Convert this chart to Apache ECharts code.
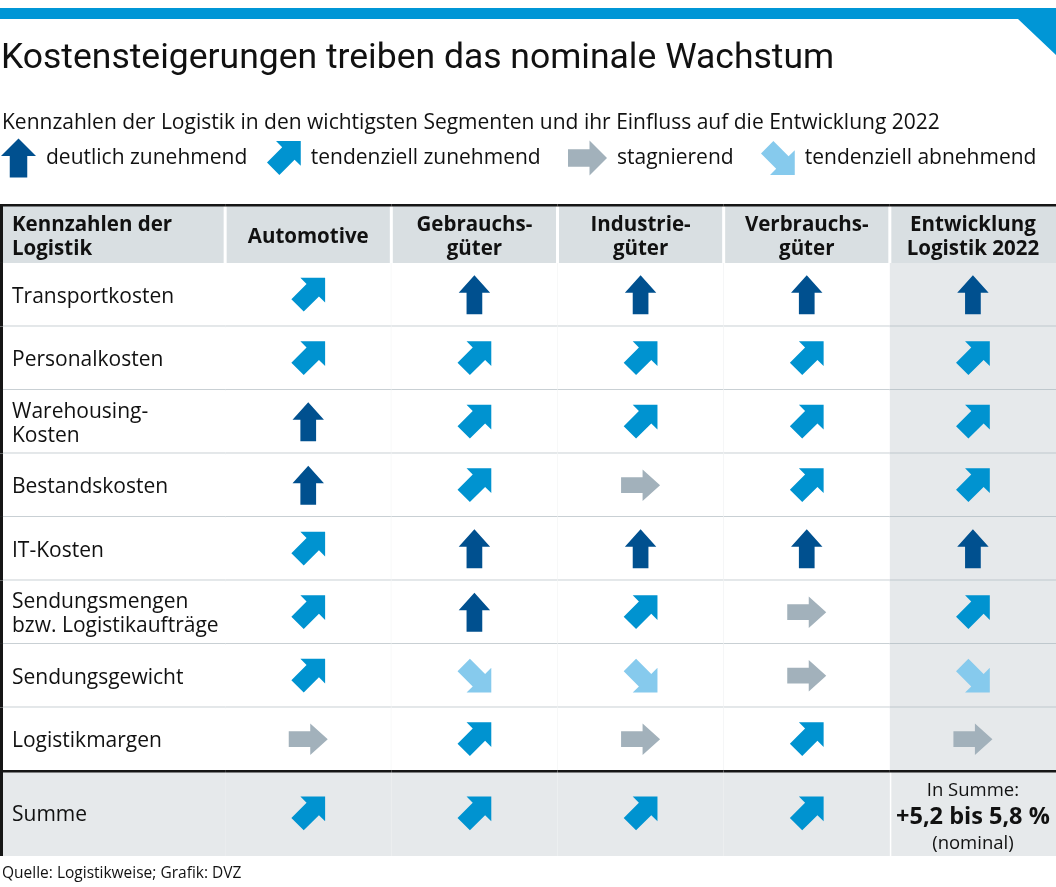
<!DOCTYPE html>
<html>
<head>
<meta charset="utf-8">
<script src="https://cdn.jsdelivr.net/npm/echarts@6.0.0/dist/echarts.min.js"></script>
<style>
  html, body { margin: 0; padding: 0; background: #fff; }
  #chart { width: 1056px; height: 887px; }
</style>
</head>
<body>
<div id="chart"></div>
<script>
// Table of trend arrows: rows = logistics metrics, columns = segments.
// 'up' = deutlich zunehmend, 'rise' = tendenziell zunehmend,
// 'flat' = stagnierend, 'fall' = tendenziell abnehmend
const columnHeads = ['Kennzahlen der\nLogistik', 'Automotive', 'Gebrauchs-\ngüter', 'Industrie-\ngüter', 'Verbrauchs-\ngüter', 'Entwicklung\nLogistik 2022'];
const metrics = ['Transportkosten', 'Personalkosten', 'Warehousing-\nKosten', 'Bestandskosten', 'IT-Kosten',
  'Sendungsmengen\nbzw. Logistikaufträge', 'Sendungsgewicht', 'Logistikmargen', 'Summe'];

const automotive       = ['rise', 'rise', 'up',   'up',   'rise', 'rise', 'rise', 'flat', 'rise'];
const gebrauchsgueter  = ['up',   'rise', 'rise', 'rise', 'up',   'up',   'fall', 'rise', 'rise'];
const industriegueter  = ['up',   'rise', 'rise', 'flat', 'up',   'rise', 'fall', 'flat', 'rise'];
const verbrauchsgueter = ['up',   'rise', 'rise', 'rise', 'up',   'flat', 'flat', 'rise', 'rise'];
const entwicklung2022  = ['up',   'rise', 'rise', 'rise', 'up',   'rise', 'fall', 'flat', null];

const trendKeys   = ['up', 'rise', 'flat', 'fall'];
const trendLabels = ['deutlich zunehmend', 'tendenziell zunehmend', 'stagnierend', 'tendenziell abnehmend'];
const summeText   = ['In Summe:', '+5,2 bis 5,8 %', '(nominal)'];
const sourceText  = 'Quelle: Logistikweise; Grafik: DVZ';

const segmentTrends = [automotive, gebrauchsgueter, industriegueter, verbrauchsgueter, entwicklung2022];
const trendColors = { up: '#00508f', rise: '#0093d0', flat: '#a2b1bb', fall: '#86caed' };
const trendAngles = { up: 0, rise: 45, flat: 90, fall: 135 };

const FONT = '"Open Sans"';
const TITLE_FONT = 'Roboto';
// axis extents: columns 1..5 centred on integers, first column is wider;
// rows 1..8 centred on integers, header row above, sum row below is taller
const X_MIN = -0.855, X_MAX = 5.5;
const Y_MIN = -0.413, Y_MAX = 9.84;
const colSpan = (c) => (c === 0 ? [X_MIN, 0.5] : [c - 0.5, c + 0.5]);
const rowSpan = (r) => (r === 0 ? [Y_MIN, 0.5] : r === 9 ? [8.5, Y_MAX] : [r - 0.5, r + 0.5]);
const rowCenter = (r) => { const s = rowSpan(r); return (s[0] + s[1]) / 2; };

// arrow outline (pointing up), rotated for each trend
const ARROW_PTS = [[0, -19.5], [17.5, -2], [8.75, -2], [8.75, 19.5], [-8.75, 19.5], [-8.75, -2], [-17.5, -2]];
function arrowSymbol(deg) {
  const a = deg * Math.PI / 180, c = Math.cos(a), s = Math.sin(a);
  const pts = ARROW_PTS.map(([x, y]) => [x * c - y * s, x * s + y * c]);
  const xs = pts.map((p) => p[0]), ys = pts.map((p) => p[1]);
  const minX = Math.min(...xs), minY = Math.min(...ys);
  const path = 'path://M' + pts.map((p) => (p[0] - minX).toFixed(2) + ' ' + (p[1] - minY).toFixed(2)).join(' L') + ' Z';
  return { path, size: [Math.max(...xs) - minX, Math.max(...ys) - minY] };
}
const symbols = {};
trendKeys.forEach((k) => { symbols[k] = arrowSymbol(trendAngles[k]); });

// table cells
const cells = [];
for (let r = 0; r <= 9; r++) for (let c = 0; c <= 5; c++) cells.push([c, r]);

function renderCell(params, api) {
  const c = api.value(0), r = api.value(1);
  const [x0, x1] = colSpan(c), [y0, y1] = rowSpan(r);
  const p0 = api.coord([x0, y0]), p1 = api.coord([x1, y1]);
  const left = p0[0], top = p0[1], w = p1[0] - p0[0], h = p1[1] - p0[1];
  const midY = top + h / 2;
  const kids = [];

  let fill = '#fff';
  if (r === 0) fill = '#d9dfe2';
  else if (r === 9 || c === 5) fill = '#e6e9eb';
  let inL = 0, inR = 0;
  if (r === 0) { inL = c > 0 ? 1.5 : 0; inR = c < 5 ? 1.5 : 0; }
  if (r === 9 && c === 5) inL = 1.5;
  kids.push({ type: 'rect', shape: { x: left + inL, y: top, width: w - inL - inR, height: h }, style: { fill } });

  if (r >= 1 && r <= 7) {
    kids.push({ type: 'rect', shape: { x: left, y: p1[1] - 1, width: w, height: 2 },
      style: { fill: c === 5 ? '#bfc8cd' : '#c9d0d4' } });
  }
  if (r >= 1 && r <= 8 && c >= 1 && c <= 3) {
    kids.push({ type: 'rect', shape: { x: p1[0] - 0.5, y: top, width: 1, height: h }, style: { fill: '#eef0f1' } });
  }
  // black rules
  if (r === 0) kids.push({ type: 'rect', shape: { x: left, y: top - 1, width: w, height: 2.5 }, style: { fill: '#161616' } });
  if (r === 9) kids.push({ type: 'rect', shape: { x: left, y: top - 1, width: w, height: 2.5 }, style: { fill: '#161616' } });
  if (c === 0) kids.push({ type: 'rect', shape: { x: left, y: top, width: 3, height: h }, style: { fill: '#161616' } });

  // texts
  if (r === 0) {
    kids.push({ type: 'text', style: {
      text: columnHeads[c], x: c === 0 ? left + 12 : left + w / 2, y: midY + 3,
      align: c === 0 ? 'left' : 'center', verticalAlign: 'middle',
      font: 'bold 20.5px ' + FONT, lineHeight: 24, fill: '#111' } });
  } else if (c === 0) {
    kids.push({ type: 'text', style: {
      text: metrics[r - 1], x: left + 12, y: midY + 2,
      align: 'left', verticalAlign: 'middle',
      font: '21px ' + FONT, lineHeight: 24, fill: '#111' } });
  } else if (r === 9 && c === 5) {
    kids.push({ type: 'text', style: {
      text: '{a|' + summeText[0] + '}\n{b|' + summeText[1] + '}\n{a|' + summeText[2] + '}',
      x: left + w / 2, y: midY + 4, align: 'center', verticalAlign: 'middle',
      rich: {
        a: { fontFamily: FONT, fontSize: 18.5, lineHeight: 26, fill: '#111', align: 'center' },
        b: { fontFamily: FONT, fontSize: 23.5, fontWeight: 'bold', lineHeight: 27, fill: '#111', align: 'center' }
      } } });
  }
  return { type: 'group', children: kids };
}

// arrows: one scatter series per trend type
const arrowSeries = trendKeys.map((k, i) => {
  const data = [];
  segmentTrends.forEach((col, ci) => {
    col.forEach((t, ri) => { if (t === k) data.push([ci + 1, rowCenter(ri + 1)]); });
  });
  return {
    name: trendLabels[i], type: 'scatter', z: 5, silent: true,
    symbol: symbols[k].path, symbolSize: symbols[k].size, symbolKeepAspect: true,
    itemStyle: { color: trendColors[k], opacity: 1 },
    data
  };
});

const legendLefts = [1, 267, 568, 761];
const legends = trendKeys.map((k, i) => ({
  data: [{ name: trendLabels[i], icon: symbols[k].path }],
  left: legendLefts[i], top: 158 - symbols[k].size[1] / 2, padding: 0,
  itemWidth: symbols[k].size[0] + 10, itemHeight: symbols[k].size[1],
  selectedMode: false,
  textStyle: { fontFamily: FONT, fontSize: 21, color: '#111' }
}));

const chart = echarts.init(document.getElementById('chart'), null, { renderer: 'canvas' });
chart.setOption({
  animation: false,
  backgroundColor: '#fff',
  title: [
    { text: 'Kostensteigerungen treiben das nominale Wachstum', left: 1, top: 41, padding: 0,
      textStyle: { fontFamily: TITLE_FONT, fontSize: 35.5, fontWeight: 'normal', color: '#111' } },
    { text: 'Kennzahlen der Logistik in den wichtigsten Segmenten und ihr Einfluss auf die Entwicklung 2022',
      left: 2, top: 113, padding: 0,
      textStyle: { fontFamily: FONT, fontSize: 21, fontWeight: 'normal', color: '#111' } },
    { text: sourceText, left: 2, top: 866, padding: 0,
      textStyle: { fontFamily: FONT, fontSize: 15.5, fontWeight: 'normal', color: '#111' } }
  ],
  legend: legends,
  graphic: [
    { type: 'polygon', silent: true,
      shape: { points: [[0, 8], [1056, 8], [1056, 55], [1018, 19], [0, 19]] },
      style: { fill: '#0096d6' } }
  ],
  grid: { left: 0, right: 0, top: 205, bottom: 31 },
  xAxis: { type: 'value', min: X_MIN, max: X_MAX, show: false },
  yAxis: { type: 'value', min: Y_MIN, max: Y_MAX, inverse: true, show: false },
  series: [
    { type: 'custom', z: 1, silent: true, renderItem: renderCell, data: cells, clip: false },
    ...arrowSeries
  ]
});
</script>
</body>
</html>
